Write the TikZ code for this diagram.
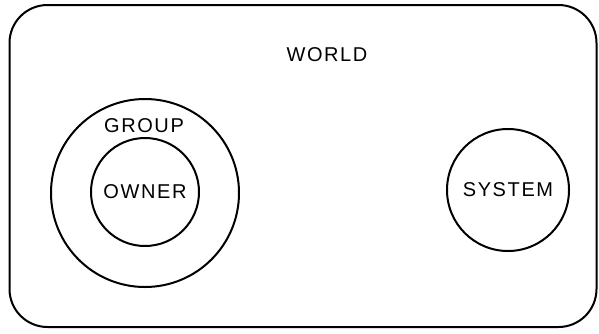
\documentclass[tikz,border=0pt]{standalone}
\usepackage{fontspec}
\newfontfamily\labelfont[LetterSpace=8]{Liberation Sans}
\begin{document}
\begin{tikzpicture}[x=1pt, y=-1pt, line width=2pt,
    every node/.style={font=\labelfont\fontsize{20}{24}\selectfont, inner sep=0pt},
    ring/.style={circle, draw, minimum size=#1}]
\useasboundingbox (0,0) rectangle (599,333);
\node[draw, rounded corners=38pt, minimum width=587pt, minimum height=322pt] (world) at (303,166) {};
\node (worldlabel) at (327,55) {WORLD};
\node[ring=188pt] (group) at (145,193) {};
\node[ring=108pt] (owner) at (145,192) {OWNER};
\node (grouplabel) at (144,126) {GROUP};
\node[ring=122pt] (system) at (508,190) {SYSTEM};
\end{tikzpicture}
\end{document}
